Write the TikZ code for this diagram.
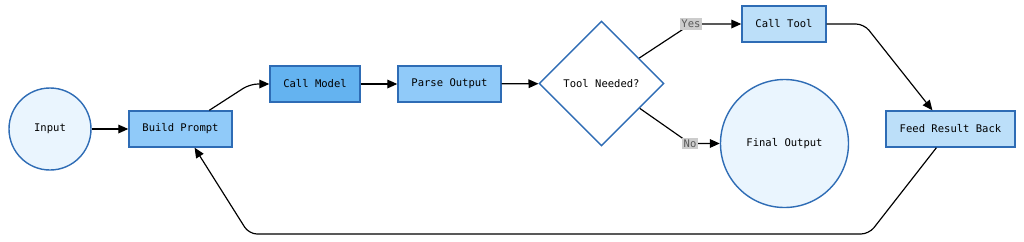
\documentclass[tikz,border=0pt]{standalone}
\usepackage{xcolor}
\usepackage{fontspec}
\setmonofont{DejaVu Sans Mono}
\usepackage{tikz}
\usetikzlibrary{arrows.meta,shapes.geometric}

\definecolor{edgeblue}{HTML}{2E6CB5}
\definecolor{paleblue}{HTML}{EAF5FE}
\definecolor{midblue}{HTML}{90CAF9}
\definecolor{deepblue}{HTML}{64B3F0}
\definecolor{softblue}{HTML}{BCDFF9}

\begin{document}
\begin{tikzpicture}[
    x=0.03cm, y=-0.03cm,
    every node/.style={font=\ttfamily\fontsize{9}{11}\selectfont},
    terminal/.style={circle,draw=edgeblue,line width=1.2pt,fill=paleblue,inner sep=0pt},
    stepbox/.style={rectangle,draw=edgeblue,line width=1.2pt,minimum height=1.08cm,inner sep=0pt},
    decide/.style={diamond,draw=edgeblue,line width=1.2pt,fill=white,aspect=1,minimum width=3.75cm,minimum height=3.75cm,inner sep=0pt},
    flow/.style={-{Triangle[length=3mm,width=2.6mm]},line width=1pt,black,rounded corners=2.4mm},
    branch/.style={sharp corners,fill=black!20,text=black!65,inner sep=1.5pt,font=\ttfamily\fontsize{9}{10}\selectfont}
]
\useasboundingbox (0,0) rectangle (1024,241);
%%% main line
\node[terminal,minimum size=2.46cm] (input) at (50,129) {Input};
\node[stepbox,fill=midblue,minimum width=3.09cm] (build) at (180.5,129) {Build Prompt};
\node[stepbox,fill=deepblue,minimum width=2.7cm] (callm) at (315,84) {Call Model};
\node[stepbox,fill=midblue,minimum width=3.09cm] (parse) at (449.5,84) {Parse Output};
\node[decide] (need) at (601.5,83.5) {Tool Needed?};
% branches
\node[stepbox,fill=softblue,minimum width=2.52cm] (calltool) at (784,24) {Call Tool};
\node[terminal,minimum size=3.84cm] (final) at (784.5,143.5) {Final Output};
\node[stepbox,fill=softblue,minimum width=3.87cm] (feed) at (950.5,129) {Feed Result Back};
% forward arrows
\draw[flow] (input) -- (build);
\draw[flow] (build.33) -- (250,84) -- (callm);
\draw[flow] (callm) -- (parse);
\draw[flow] (parse) -- (need);
\draw[flow] (need.34) -- (691,24) node[branch] {Yes} -- (calltool);
\draw[flow] (need.-33) -- (690,143.5) node[branch] {No} -- (final);
\draw[flow] (calltool.east) -- (864,24) -- (feed.134);
% loop back
\draw[flow] (feed.233) -- (869,234) -- (249,234) -- (build.-53);
\end{tikzpicture}
\end{document}
